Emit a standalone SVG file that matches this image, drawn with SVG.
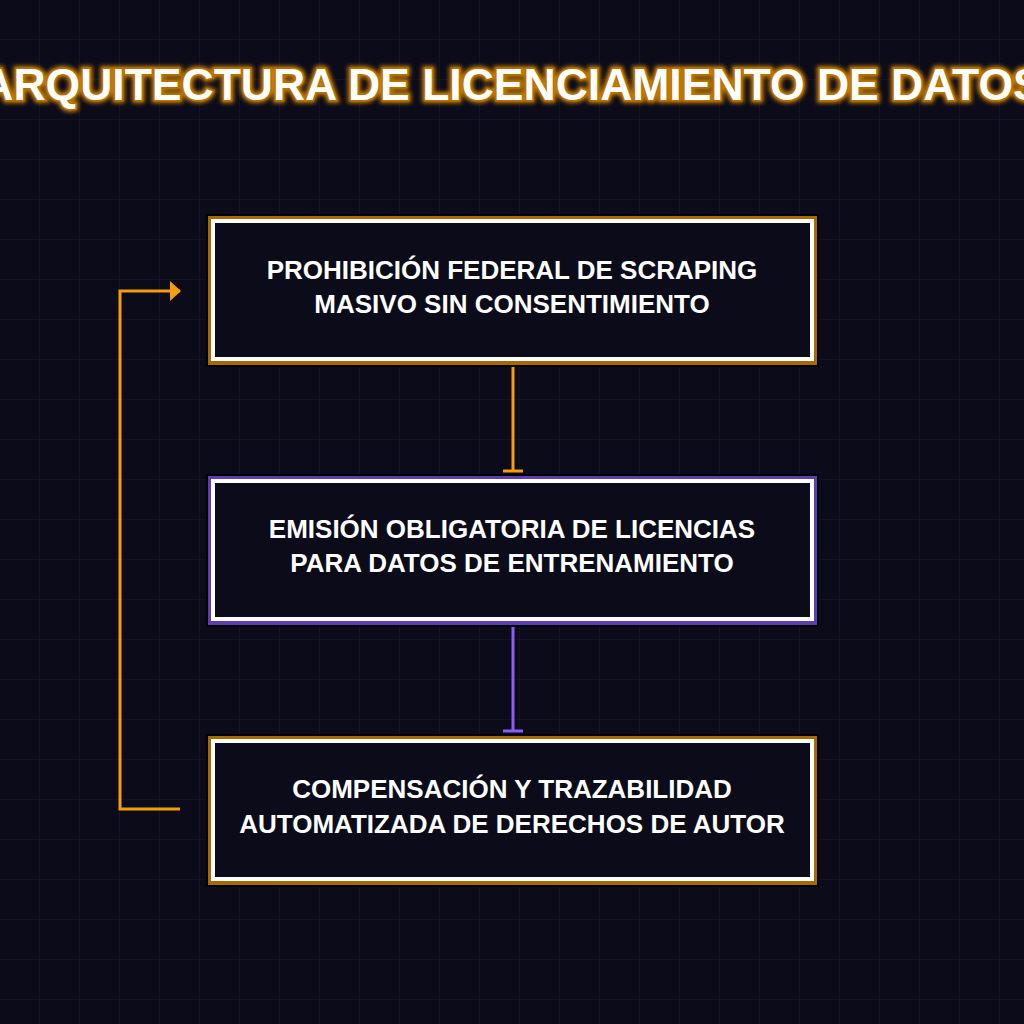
<svg xmlns="http://www.w3.org/2000/svg" width="1024" height="1024" viewBox="0 0 1024 1024">
<defs>
<pattern id="grid" width="40" height="40" patternUnits="userSpaceOnUse"><path d="M40 0V40M0 40H40" fill="none" stroke="#1a1a30" stroke-width="1.2"/></pattern>
<marker id="arr" markerWidth="12" markerHeight="22" refX="10" refY="11" orient="auto" markerUnits="userSpaceOnUse"><path d="M0 1L11 11L0 21Z" fill="#f59e0b"/></marker>
<filter id="glow" x="-10%" y="-50%" width="120%" height="200%"><feGaussianBlur stdDeviation="2"/></filter>
</defs>
<style>
.t{font-family:"Liberation Sans",Arial,sans-serif;font-weight:bold;fill:#fff;text-anchor:middle}
.lbl{font-size:26px}
.inner{fill:#0b0b1a;stroke:#fff;stroke-width:4}
</style>
<rect width="1024" height="1024" fill="#0b0b1a"/>
<rect width="1024" height="1024" fill="url(#grid)"/>
<g id="title">
<text class="t" x="512" y="100" font-size="44.5" stroke="#c77d00" stroke-width="6" filter="url(#glow)">ARQUITECTURA DE LICENCIAMIENTO DE DATOS</text>
<text class="t" x="512" y="100" font-size="44.5" stroke="#b87000" stroke-width="3" paint-order="stroke">ARQUITECTURA DE LICENCIAMIENTO DE DATOS</text>
</g>
<g id="connectors" fill="none" stroke-width="3">
<path d="M513 362V471M503 471H523" stroke="#f59e0b"/>
<path d="M513 622V731M503 731H523" stroke="#8b5cf6"/>
<path d="M180 809H120V291H180" stroke="#f59e0b" marker-end="url(#arr)"/>
</g>
<g id="n1">
<rect x="206" y="214" width="613" height="153" fill="#000"/>
<rect x="208" y="216" width="609" height="149" fill="#a86a00"/>
<rect x="213" y="221" width="599" height="138" class="inner"/>
<text class="t lbl" x="512" y="279">PROHIBICIÓN FEDERAL DE SCRAPING</text>
<text class="t lbl" x="512" y="313">MASIVO SIN CONSENTIMIENTO</text>
</g>
<g id="n2">
<rect x="206" y="474" width="613" height="153" fill="#000"/>
<rect x="208" y="476" width="609" height="149" fill="#5b3fb0"/>
<rect x="213" y="481" width="599" height="138" class="inner"/>
<text class="t lbl" x="512" y="538">EMISIÓN OBLIGATORIA DE LICENCIAS</text>
<text class="t lbl" x="512" y="572">PARA DATOS DE ENTRENAMIENTO</text>
</g>
<g id="n3">
<rect x="206" y="734" width="613" height="153" fill="#000"/>
<rect x="208" y="736" width="609" height="149" fill="#a86a00"/>
<rect x="213" y="741" width="599" height="138" class="inner"/>
<text class="t lbl" x="512" y="798">COMPENSACIÓN Y TRAZABILIDAD</text>
<text class="t lbl" x="512" y="833">AUTOMATIZADA DE DERECHOS DE AUTOR</text>
</g>
</svg>
